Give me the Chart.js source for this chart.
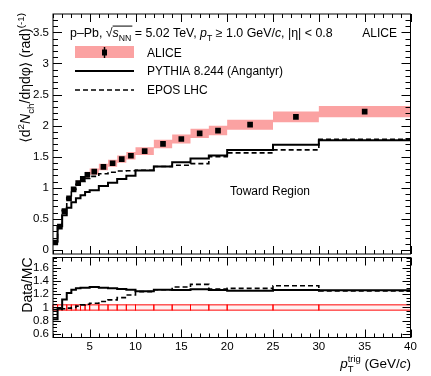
<!DOCTYPE html>
<html>
<head>
<meta charset="utf-8">
<script src="https://cdn.jsdelivr.net/npm/chart.js@4.4.0/dist/chart.umd.min.js"></script>
<style>
  html, body { margin: 0; padding: 0; background: #fff; }
  #wrap { position: relative; width: 431px; height: 376px; }
  #wrap canvas { position: absolute; left: 0; top: 0; }
</style>
</head>
<body>
<div id="wrap">
  <canvas id="topChart" width="431" height="376"></canvas>
  <canvas id="ratioChart" width="431" height="376"></canvas>
</div>
<script>
// --------------------------------------------------
// Data
// --------------------------------------------------
const binEdges = [1, 1.5, 2, 2.5, 3, 3.5, 4, 4.5, 5, 6, 7, 8, 9, 10, 12, 14, 16, 18, 20, 25, 30, 40];
const aliceVals = [0.12, 0.375, 0.625, 0.83, 0.975, 1.075, 1.145, 1.21, 1.26, 1.335, 1.395, 1.46, 1.515,
  1.59, 1.705, 1.785, 1.875, 1.92, 2.015, 2.14, 2.225];
const aliceStat = [0.004, 0.004, 0.004, 0.004, 0.004, 0.004, 0.004, 0.004, 0.005, 0.005, 0.005, 0.006, 0.006,
  0.007, 0.008, 0.009, 0.01, 0.012, 0.012, 0.016, 0.026];
const systRel = 0.04;
const pythiaVals = [0.146, 0.383, 0.558, 0.68, 0.768, 0.833, 0.881, 0.931, 0.962, 1.027, 1.081, 1.141, 1.193,
  1.277, 1.343, 1.411, 1.471, 1.518, 1.606, 1.692, 1.766];
const eposVals = [0.124, 0.387, 0.638, 0.838, 0.975, 1.054, 1.101, 1.152, 1.183, 1.225, 1.251, 1.27, 1.273,
  1.282, 1.343, 1.363, 1.389, 1.5, 1.562, 1.609, 1.78];
const ratioPythia = [0.82, 0.98, 1.12, 1.22, 1.27, 1.29, 1.3, 1.3, 1.31, 1.3, 1.29, 1.28, 1.27,
  1.245, 1.27, 1.265, 1.275, 1.265, 1.255, 1.265, 1.26];
const ratioEpos = [0.97, 0.97, 0.98, 0.99, 1.0, 1.02, 1.04, 1.05, 1.065, 1.09, 1.115, 1.15, 1.19,
  1.24, 1.27, 1.31, 1.35, 1.28, 1.29, 1.33, 1.25];

const xTickVals = [5, 10, 15, 20, 25, 30, 35, 40];
const topYTicks = [0, 0.5, 1, 1.5, 2, 2.5, 3, 3.5];
const ratioYTicks = [0.6, 0.8, 1, 1.2, 1.4, 1.6];

// --------------------------------------------------
// Helpers
// --------------------------------------------------
const FONT = '"Liberation Sans", "DejaVu Sans", sans-serif';
const PINK = "rgb(251,162,162)";
const W = 431, H = 376;
const AREA_LEFT = 53, AREA_RIGHT = 410.5;

function stepPts(vals) {
  const pts = vals.map((v, i) => ({ x: binEdges[i], y: v }));
  pts.push({ x: binEdges[vals.length], y: vals[vals.length - 1] });
  return pts;
}
const centers = aliceVals.map((v, i) => (binEdges[i] + binEdges[i + 1]) / 2);

// text with sub/superscripts: parts = [{t, it}, {sub, sup}]
function drawRich(ctx, parts, x, y, size, align) {
  const small = size * 0.7;
  const setF = (sz, it) => { ctx.font = (it ? "italic " : "") + sz + "px " + FONT; };
  const widths = parts.map((p) => {
    if (p.t === undefined) {
      setF(small, false);
      return Math.max(p.sub ? ctx.measureText(p.sub).width : 0, p.sup ? ctx.measureText(p.sup).width : 0);
    }
    setF(size, p.it);
    return ctx.measureText(p.t).width;
  });
  const total = widths.reduce((a, b) => a + b, 0);
  let cx = align === "right" ? x - total : align === "center" ? x - total / 2 : x;
  ctx.textAlign = "left";
  ctx.textBaseline = "alphabetic";
  ctx.fillStyle = "#000";
  let overStart = null;
  parts.forEach((p, i) => {
    if (p.over && overStart === null) overStart = cx;
    if (p.t === undefined) {
      setF(small, false);
      if (p.sub) ctx.fillText(p.sub, cx, y + size * 0.3);
      if (p.sup) ctx.fillText(p.sup, cx, y - size * 0.45);
    } else {
      setF(size, p.it);
      ctx.fillText(p.t, cx, y);
    }
    cx += widths[i];
    if (p.over && !(parts[i + 1] && parts[i + 1].over)) {
      ctx.beginPath();
      ctx.lineWidth = 1;
      ctx.strokeStyle = "#000";
      ctx.moveTo(overStart, y - size * 0.88);
      ctx.lineTo(cx + 1, y - size * 0.88);
      ctx.stroke();
      overStart = null;
    }
  });
}

// frame + ROOT-like inward ticks on all four sides
const framePlugin = {
  id: "frame",
  afterDraw(chart, args, o) {
    const { ctx, chartArea: a } = chart;
    const xs = chart.scales.x, ys = chart.scales.y;
    ctx.save();
    ctx.strokeStyle = "#000";
    ctx.lineWidth = 1;
    ctx.strokeRect(a.left, a.top, a.right - a.left, a.bottom - a.top);
    ctx.beginPath();
    const k0x = Math.ceil(xs.min / o.xMinor - 1e-6), k1x = Math.floor(xs.max / o.xMinor + 1e-6);
    for (let k = k0x; k <= k1x; k++) {
      const v = k * o.xMinor;
      const major = Math.abs(v / o.xMajor - Math.round(v / o.xMajor)) < 1e-6;
      const len = major ? o.xLen[0] : o.xLen[1];
      const px = Math.round(xs.getPixelForValue(v)) + 0.5;
      ctx.moveTo(px, a.bottom); ctx.lineTo(px, a.bottom - len);
      ctx.moveTo(px, a.top); ctx.lineTo(px, a.top + len);
    }
    const k0y = Math.ceil(ys.min / o.yMinor - 1e-6), k1y = Math.floor(ys.max / o.yMinor + 1e-6);
    for (let k = k0y; k <= k1y; k++) {
      const v = k * o.yMinor;
      const major = Math.abs(v / o.yMajor - Math.round(v / o.yMajor)) < 1e-6;
      const len = major ? o.yLen[0] : o.yLen[1];
      const py = Math.round(ys.getPixelForValue(v)) + 0.5;
      ctx.moveTo(a.left, py); ctx.lineTo(a.left + len, py);
      ctx.moveTo(a.right, py); ctx.lineTo(a.right - len, py);
    }
    ctx.stroke();
    ctx.restore();
  },
};

// statistical error bars on the ALICE points
const statBarsPlugin = {
  id: "statBars",
  afterDatasetsDraw(chart) {
    const { ctx } = chart;
    const xs = chart.scales.x, ys = chart.scales.y;
    ctx.save();
    ctx.strokeStyle = "#000";
    ctx.lineWidth = 1.5;
    ctx.beginPath();
    centers.forEach((c, i) => {
      const px = xs.getPixelForValue(c);
      ctx.moveTo(px, ys.getPixelForValue(aliceVals[i] - aliceStat[i]));
      ctx.lineTo(px, ys.getPixelForValue(aliceVals[i] + aliceStat[i]));
    });
    ctx.stroke();
    ctx.restore();
  },
};

// top panel texts: header, legend, region label, y title
const topTextPlugin = {
  id: "topText",
  afterDraw(chart) {
    const { ctx } = chart;
    ctx.save();
    drawRich(ctx, [
      { t: "p–Pb, " }, { t: "√" }, { t: "s", it: true, over: true }, { sub: "NN", over: true },
      { t: " = 5.02 TeV, " }, { t: "p", it: true }, { sub: "T" }, { t: " ≥ 1.0 GeV/" }, { t: "c", it: true },
      { t: ", |η| < 0.8" },
    ], 70, 37, 12.4, "left");
    drawRich(ctx, [{ t: "ALICE" }], 397, 37, 12, "right");

    // legend
    ctx.fillStyle = PINK;
    ctx.fillRect(75, 46, 59, 12);
    ctx.fillStyle = "#000";
    ctx.fillRect(102, 49.5, 5, 6);
    ctx.strokeStyle = "#000";
    ctx.lineWidth = 1.5;
    ctx.beginPath();
    ctx.moveTo(104.5, 47); ctx.lineTo(104.5, 58);
    ctx.stroke();
    ctx.lineWidth = 2;
    ctx.beginPath();
    ctx.moveTo(75, 71); ctx.lineTo(134, 71);
    ctx.stroke();
    ctx.lineWidth = 1.6;
    ctx.setLineDash([5, 3]);
    ctx.beginPath();
    ctx.moveTo(75, 90); ctx.lineTo(134, 90);
    ctx.stroke();
    ctx.setLineDash([]);
    drawRich(ctx, [{ t: "ALICE" }], 147, 56.5, 12, "left");
    drawRich(ctx, [{ t: "PYTHIA 8.244 (Angantyr)" }], 147, 75.3, 12, "left");
    drawRich(ctx, [{ t: "EPOS LHC" }], 147, 94.3, 12, "left");

    drawRich(ctx, [{ t: "Toward Region" }], 230, 195, 12, "left");

    ctx.translate(30, 13);
    ctx.rotate(-Math.PI / 2);
    drawRich(ctx, [
      { t: "⟨d" }, { sup: "2" }, { t: "N", it: true }, { sub: "ch" }, { t: "/dηdφ⟩ (rad)" }, { sup: "(-1)" },
    ], 0, 0, 14, "right");
    ctx.restore();
  },
};

// ratio panel: syst boxes around 1 and titles
const ratioBoxPlugin = {
  id: "ratioBoxes",
  beforeDatasetsDraw(chart) {
    const { ctx } = chart;
    const xs = chart.scales.x, ys = chart.scales.y;
    ctx.save();
    ctx.strokeStyle = "rgb(255,0,0)";
    ctx.fillStyle = "rgba(255,0,0,0.05)";
    ctx.lineWidth = 1;
    for (let i = 0; i < binEdges.length - 1; i++) {
      const x0 = xs.getPixelForValue(binEdges[i]);
      const x1 = xs.getPixelForValue(binEdges[i + 1]);
      const y0 = ys.getPixelForValue(1 + systRel);
      const y1 = ys.getPixelForValue(1 - systRel);
      ctx.fillRect(x0, y0, x1 - x0, y1 - y0);
      ctx.strokeRect(x0, y0, x1 - x0, y1 - y0);
    }
    ctx.restore();
  },
  afterDraw(chart) {
    const { ctx } = chart;
    ctx.save();
    ctx.translate(31.5, 257.5);
    ctx.rotate(-Math.PI / 2);
    drawRich(ctx, [{ t: "Data/MC" }], 0, 0, 14, "right");
    ctx.restore();
    ctx.save();
    drawRich(ctx, [
      { t: "p", it: true }, { sub: "T", sup: "trig" }, { t: " (GeV/" }, { t: "c", it: true }, { t: ")" },
    ], 411, 368, 13.5, "right");
    ctx.restore();
  },
};

const tickFont = { family: FONT, size: 11.5 };

// --------------------------------------------------
// Top panel
// --------------------------------------------------
new Chart(document.getElementById("topChart"), {
  type: "line",
  data: {
    datasets: [
      {
        data: stepPts(aliceVals.map((v) => v * (1 + systRel))),
        stepped: "before", borderWidth: 0, borderColor: "rgba(0,0,0,0)", pointRadius: 0,
        fill: "+1", backgroundColor: PINK, order: 5,
      },
      {
        data: stepPts(aliceVals.map((v) => v * (1 - systRel))),
        stepped: "before", borderWidth: 0, borderColor: "rgba(0,0,0,0)", pointRadius: 0,
        fill: false, order: 5,
      },
      {
        data: stepPts(pythiaVals),
        stepped: "before", borderColor: "#000", borderWidth: 2, pointRadius: 0, fill: false, order: 3,
      },
      {
        data: stepPts(eposVals),
        stepped: "before", borderColor: "#000", borderWidth: 1.6, borderDash: [5, 3], pointRadius: 0,
        fill: false, order: 3,
      },
      {
        data: centers.map((x, i) => ({ x, y: aliceVals[i] })),
        showLine: false, pointStyle: "rect", pointRadius: 4, borderWidth: 0,
        backgroundColor: "#000", borderColor: "#000", order: 1,
      },
    ],
  },
  options: {
    responsive: false,
    animation: false,
    events: [],
    layout: { padding: { left: 0, right: W - AREA_RIGHT, top: 14, bottom: H - 254 } },
    plugins: {
      legend: { display: false },
      tooltip: { enabled: false },
      frame: { xMinor: 1, xMajor: 5, yMinor: 0.1, yMajor: 0.5, xLen: [8, 4], yLen: [9, 5] },
    },
    scales: {
      x: {
        type: "linear", min: 1, max: 40,
        grid: { display: false, drawTicks: false }, border: { display: false },
        ticks: { display: false },
        afterFit: (s) => { s.height = 0; },
      },
      y: {
        min: -0.065, max: 3.795,
        grid: { display: false, drawTicks: false }, border: { display: false },
        ticks: { padding: 4, color: "#000", font: tickFont, autoSkip: false, callback: (v) => String(v) },
        afterBuildTicks: (s) => { s.ticks = topYTicks.map((v) => ({ value: v })); },
        afterFit: (s) => { s.width = AREA_LEFT; },
      },
    },
  },
  plugins: [framePlugin, statBarsPlugin, topTextPlugin],
});

// --------------------------------------------------
// Ratio panel
// --------------------------------------------------
new Chart(document.getElementById("ratioChart"), {
  type: "line",
  data: {
    datasets: [
      {
        data: stepPts(ratioPythia),
        stepped: "before", borderColor: "#000", borderWidth: 2, pointRadius: 0, fill: false,
      },
      {
        data: stepPts(ratioEpos),
        stepped: "before", borderColor: "#000", borderWidth: 1.6, borderDash: [5, 3], pointRadius: 0, fill: false,
      },
    ],
  },
  options: {
    responsive: false,
    animation: false,
    events: [],
    layout: { padding: { left: 0, right: W - AREA_RIGHT, top: 257.5, bottom: 0 } },
    plugins: {
      legend: { display: false },
      tooltip: { enabled: false },
      frame: { xMinor: 1, xMajor: 5, yMinor: 0.05, yMajor: 0.2, xLen: [8, 4], yLen: [8, 4] },
    },
    scales: {
      x: {
        type: "linear", min: 1, max: 40,
        grid: { display: false, drawTicks: false }, border: { display: false },
        ticks: { padding: 2, color: "#000", font: tickFont, maxRotation: 0, autoSkip: false,
          callback: (v) => String(v) },
        afterBuildTicks: (s) => { s.ticks = xTickVals.map((v) => ({ value: v })); },
        afterFit: (s) => { s.height = H - 337.5; },
      },
      y: {
        min: 0.545, max: 1.758,
        grid: { display: false, drawTicks: false }, border: { display: false },
        ticks: { padding: 4, color: "#000", font: tickFont, autoSkip: false, callback: (v) => String(v) },
        afterBuildTicks: (s) => { s.ticks = ratioYTicks.map((v) => ({ value: v })); },
        afterFit: (s) => { s.width = AREA_LEFT; },
      },
    },
  },
  plugins: [framePlugin, ratioBoxPlugin],
});
</script>
</body>
</html>
